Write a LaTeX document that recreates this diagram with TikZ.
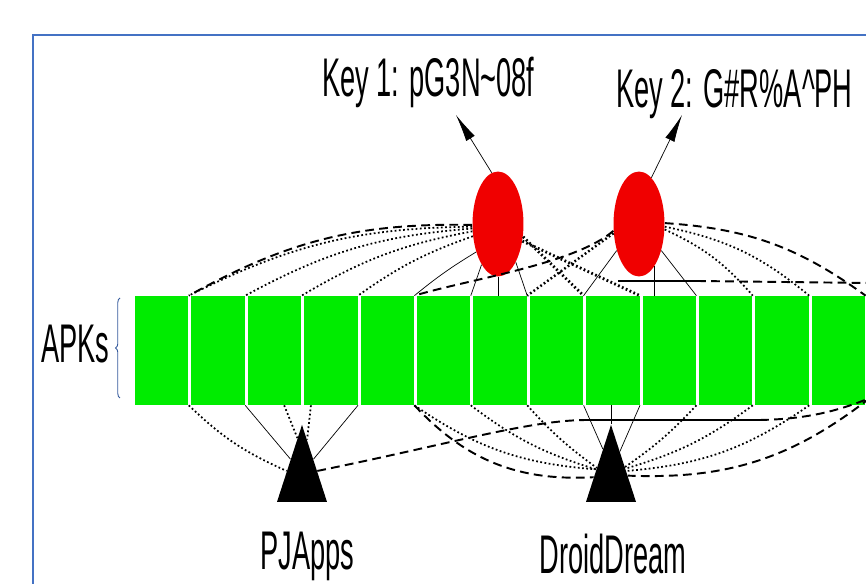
\documentclass[tikz,border=0pt]{standalone}
\usepackage{fontspec}
\setmainfont{Liberation Sans}
\usetikzlibrary{shapes.geometric,arrows.meta,decorations.pathreplacing,calc}
\definecolor{apkgreen}{RGB}{0,236,0}
\definecolor{keyred}{RGB}{240,0,0}
\definecolor{frameblue}{RGB}{68,114,196}
\newcommand{\squeeze}[1]{\scalebox{0.5}[1]{\fontsize{31}{34}\selectfont #1}}
\begin{document}
\begin{tikzpicture}[x=0.02cm,y=0.02cm,
  apk/.style={fill=apkgreen,minimum width=1.07cm,minimum height=2.18cm,inner sep=0},
  key/.style={ellipse,fill=keyred,minimum width=1.02cm,minimum height=2.1cm,inner sep=0},
  fam/.style={isosceles triangle,isosceles triangle stretches,shape border rotate=90,
    fill=black,minimum width=1cm,minimum height=1.54cm,inner sep=0,anchor=apex},
  link/.style={line width=0.4pt},
  dotlink/.style={line width=1pt,dash pattern=on 1pt off 1.4pt},
  dashlink/.style={line width=1.1pt,dash pattern=on 5pt off 3pt},
  label/.style={inner sep=0,anchor=base west}]
\useasboundingbox (0,0) rectangle (866,584);
\clip (0,0) rectangle (866,584);
\draw[frameblue,line width=0.8pt] (33,0) -- (33,549) -- (866,549);
\foreach \i in {0,...,12}
  \node[apk] (b\i) at ({161.7+56.4*\i},233.5) {};
\node[key] (k1) at (498,360) {};
\node[key] (k2) at (639,360) {};
\node[fam] (pj) at (302,160) {};
\node[fam] (dd) at (611,160) {};
\node[label] (t1) at (322,487) {\squeeze{Key 1: pG3N\textasciitilde 08f}};
\node[label] (t2) at (616,476) {\squeeze{Key 2: G\#R\%A\textasciicircum PH}};
\node[label] (apks) at (41,221) {\squeeze{APKs}};
\node[label] (pjt) at (260,14) {\squeeze{PJApps}};
\node[label] (ddt) at (539,10) {\squeeze{DroidDream}};
\draw[frameblue!80!black,line width=0.5pt,decorate,decoration={brace,amplitude=2.5pt}]
  (120,186) -- (120,286);
% keys
\coordinate (tip1) at (456,469);
\coordinate (tip2) at (682,469);
\draw[link,-{Latex[length=0.55cm,width=0.2cm]}] (k1.97) -- (tip1);
\draw[link,-{Latex[length=0.55cm,width=0.2cm]}] (k2.75) -- (tip2);
\draw[dashlink] (k1.182) to[bend right=15] (b0.north east);
\draw[dotlink] (k1.186) to[bend right=13] (b0.north east);
\draw[dotlink] (k1.190) to[bend right=12] (b1.north east);
\draw[dotlink] (k1.196) to[bend right=10] (b2.north east);
\draw[dotlink] (k1.206) to[bend right=8] (b3.north east);
\draw[link] (k1.232) to[bend right=4] (b4.north east);
\draw[link] (k1.248) -- (b5.north east);
\draw[link] (k1.south) -- (k1.south |- b6.north);
\draw[link] (k1.295) -- (b6.north east);
\draw[dotlink,line width=1.6pt] (k1.333) -- (b7.north east);
\draw[dotlink,line width=1.6pt] (k1.325) -- (b8.north east);
\draw[dashlink] (k2.195) .. controls (575,320) and (470,305) .. (b4.north east);
\draw[dotlink,line width=1.4pt] (k2.200) -- (b6.north east);
\draw[link] (k2.230) -- (b7.north east);
\draw[link] (k2.290) -- (k2.290 |- b9.north);
\draw[link] (k2.310) -- (b9.north east);
\coordinate (h1) at (618,303);
\coordinate (h2) at (697,303);
\coordinate (e1) at (870,301);
\draw[link,line width=0.8pt] (h1) -- (h2);
\draw[dashlink] (h2) -- (e1);
\draw[dotlink] (k2.348) to[bend left=12] (b10.north east);
\draw[dotlink] (k2.354) to[bend left=14] (b11.north east);
\draw[dashlink] (k2.2) to[bend left=16] (b12.north east);
% PJApps
\draw[dotlink] (b0.south east) to[bend right=10] ($(pj.apex)!.6!(pj.left corner)$);
\draw[link] (b1.south east) -- ($(pj.apex)!.45!(pj.left corner)$);
\draw[dotlink] (b2.280) -- ($(pj.apex)!.18!(pj.left corner)$);
\draw[dotlink] (b3.250) -- ($(pj.apex)!.2!(pj.right corner)$);
\draw[link] (b3.south east) -- ($(pj.apex)!.45!(pj.right corner)$);
\coordinate (s1) at (587,164);
\coordinate (s2) at (760,164);
\coordinate (e2) at (870,186);
\draw[dashlink] ($(pj.apex)!.6!(pj.right corner)$) .. controls (450,140) and (530,164) .. (s1);
\draw[link,line width=0.8pt] (s1) -- (s2);
\draw[dashlink] (s2) .. controls (810,165) and (840,174) .. (e2);
% DroidDream
\draw[dotlink] (b4.south east) to[bend right=15] ($(dd.apex)!.58!(dd.left corner)$);
\draw[dashlink] (b4.south east) to[bend right=25] ($(dd.apex)!.68!(dd.left corner)$);
\draw[dotlink] (b5.south east) to[bend right=10] ($(dd.apex)!.58!(dd.left corner)$);
\draw[dotlink] (b6.south east) to[bend right=6] ($(dd.apex)!.56!(dd.left corner)$);
\draw[link] (b7.south east) -- ($(dd.apex)!.32!(dd.left corner)$);
\draw[link] (dd.apex) -- (dd.apex |- b8.south);
\draw[link] (b8.south east) -- ($(dd.apex)!.35!(dd.right corner)$);
\draw[dotlink] (b9.south east) to[bend left=6] ($(dd.apex)!.55!(dd.right corner)$);
\draw[dotlink] (b10.south east) to[bend left=10] ($(dd.apex)!.57!(dd.right corner)$);
\draw[dotlink] (b11.south east) to[bend left=15] ($(dd.apex)!.6!(dd.right corner)$);
\coordinate (e3) at (870,186);
\draw[dashlink] (e3) to[bend left=20] ($(dd.apex)!.66!(dd.right corner)$);
\end{tikzpicture}
\end{document}
